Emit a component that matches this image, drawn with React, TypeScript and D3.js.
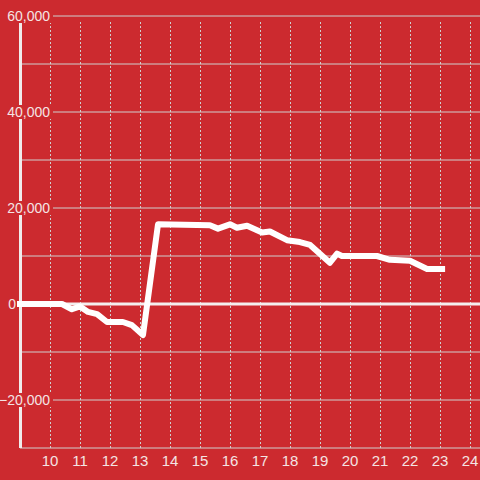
import React from "react";
import * as d3 from "d3";

const xValues = [8.9, 10.4, 10.73, 11.0, 11.27, 11.57, 11.9, 12.43, 12.73, 13.1, 13.6, 15.33, 15.6, 16.0, 16.23, 16.57, 17.07, 17.33, 17.9, 18.33, 18.67, 19.33, 19.57, 19.73, 20.9, 21.33, 22.0, 22.57, 23.17];
const yValues = [0, 0, -1100, -500, -1650, -2100, -3750, -3750, -4400, -6450, 16600, 16400, 15700, 16600, 15900, 16300, 14900, 15100, 13300, 12900, 12300, 8600, 10500, 10000, 10000, 9200, 9000, 7300, 7300];
const xTicks = [10, 11, 12, 13, 14, 15, 16, 17, 18, 19, 20, 21, 22, 23, 24];
const yLabelTicks = [60000, 40000, 20000, 0, -20000];
const yGridTicks = [60000, 50000, 40000, 30000, 20000, 10000, -10000, -20000, -30000];

const BG = "#cc2a2f";
const TEXT = "#f4e4e4";
const GRID = "#cfcfcf";
const FONT = "'Liberation Sans', Arial, sans-serif";

export default function App() {
  const x = d3.scaleLinear().domain([9, 24 + 1 / 3]).range([20, 480]);
  const y = d3.scaleLinear().domain([-30000, 60000]).range([448, 16]);
  const fmt = d3.format(",");
  const data = xValues.map((v, i) => [v, yValues[i]] as [number, number]);
  const line = d3.line<[number, number]>().x((d) => x(d[0])).y((d) => y(d[1]));

  return (
    <svg width={480} height={480} style={{ position: "absolute", left: 0, top: 0, background: BG }} fontFamily={FONT}>
      <rect x={0} y={0} width={480} height={480} fill={BG} />
      {yGridTicks.map((t) => (
        <line key={"h" + t} x1={x(9)} x2={480} y1={y(t)} y2={y(t)} stroke={GRID} strokeWidth={1} />
      ))}
      {xTicks.map((t) => (
        <line key={"v" + t} x1={Math.round(x(t)) + 0.5} x2={Math.round(x(t)) + 0.5} y1={y(-30000)} y2={y(60000) + 6} stroke={GRID} strokeWidth={1} strokeDasharray="2,2" />
      ))}
      <line x1={x(9)} x2={480} y1={y(0)} y2={y(0)} stroke="#f4eeee" strokeWidth={3} />
      <line x1={20.5} x2={20.5} y1={y(60000)} y2={y(-30000)} stroke="#f0ecec" strokeWidth={3} />
      {yLabelTicks.map((t) => (
        <g key={"yl" + t}>
          {t !== 0 && <rect x={4} y={y(t) - 7} width={49} height={14} fill={BG} />}
          <text x={t === 0 ? 16 : 50} y={y(t) + 5} textAnchor="end" fontSize={14} fill={TEXT}>
            {fmt(t)}
          </text>
        </g>
      ))}
      {xTicks.map((t) => (
        <text key={"xl" + t} x={x(t)} y={466} textAnchor="middle" fontSize={15} fill={TEXT}>
          {t}
        </text>
      ))}
      <path d={line(data) || ""} fill="none" stroke="#ffffff" strokeWidth={6} strokeLinejoin="round" />
    </svg>
  );
}
